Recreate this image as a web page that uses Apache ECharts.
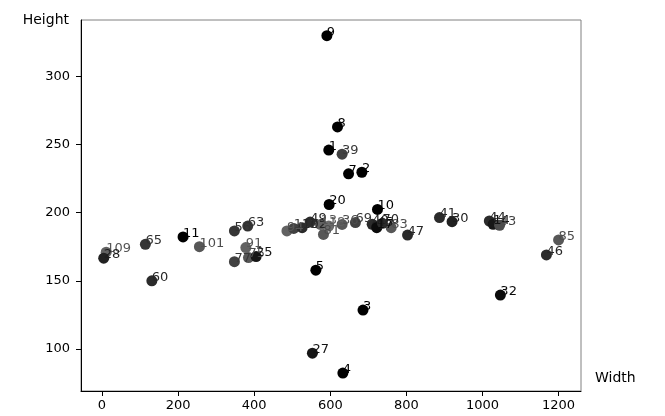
<!DOCTYPE html>
<html>
<head>
<meta charset="utf-8">
<script src="https://cdn.jsdelivr.net/npm/echarts@6/dist/echarts.min.js"></script>
<style>html,body{margin:0;padding:0;background:#fff}#c{width:665px;height:416px}</style>
</head>
<body>
<div id="c"></div>
<script>
// point identifiers (labels)
var ids = ['9','8','1','39','7','2','20','10','41','30','44','14','43','85','46','32','3','4','27','5',
  '47','83','69','40','45','17','70','109','28','65','60','11','101','56','63','91','77','75','25',
  '94','112','102','49','13','81','18','36'];
// Width values
var widths = [591,619,596,631,648,683,597,724,887,920,1018,1028,1045,1200,1168,1047,686,633,553,562,
  803,760,666,710,723,722,737,11,4.5,114,131,213,256,348,383,378,348,385,405,
  486,504,526,547,574,582,596,631];
// Height values
var heights = [330,263,246,243,228.5,229.7,206,202.4,196.4,193.4,193.9,191.5,190.7,180,169,139.5,128.5,82.2,96.8,157.8,
  183.6,189,192.7,191.5,190.2,189,192.2,171,166.6,176.8,150,182.2,175,186.6,190.2,174.4,164,167,167.8,
  186.6,188.4,189,193.1,191.4,184,190.2,191.4];
// grey tone of each point (0 = black)
var tones = [0,0,0,0.3,0,0,0,0,0.2,0.15,0.2,0.1,0.35,0.4,0.2,0.05,0,0,0.1,0,
  0.2,0.4,0.3,0.2,0.15,0.05,0.2,0.45,0.15,0.25,0.2,0,0.4,0.25,0.25,0.45,0.3,0.4,0.1,
  0.45,0.3,0.2,0.2,0.45,0.4,0.5,0.4];
var xTicks = [0,200,400,600,800,1000,1200];
var yTicks = [100,150,200,250,300];

function grey(t){var v=Math.round(t*255);return 'rgb('+v+','+v+','+v+')';}
var data = ids.map(function(id,i){
  return {name:id, value:[widths[i],heights[i]],
    itemStyle:{color:grey(tones[i]*0.85), opacity:1},
    label:{color:grey(tones[i]*0.75)}};
});
var FONT = 'DejaVu Sans';
var chart = echarts.init(document.getElementById('c'));
chart.setOption({
  animation:false,
  grid:{left:81, right:84, top:20, bottom:24, show:true, borderColor:'#808080', borderWidth:1},
  xAxis:{type:'value', min:-55.2, max:1258.9, name:'Width\n', nameLocation:'end', nameGap:14,
    nameTextStyle:{fontFamily:FONT, fontSize:14, color:'#000', lineHeight:25},
    axisLine:{onZero:false, lineStyle:{color:'#000', width:1}},
    axisTick:{show:true, length:5, lineStyle:{color:'#000'}, customValues:xTicks},
    axisLabel:{fontFamily:FONT, fontSize:13, color:'#000', margin:8, customValues:xTicks,
      formatter:function(v){return String(v);}},
    splitLine:{show:false}},
  yAxis:{type:'value', min:69.05, max:341.5, name:'Height', nameLocation:'end', nameGap:0,
    nameTextStyle:{fontFamily:FONT, fontSize:14, color:'#000', align:'right', verticalAlign:'middle', padding:[0,12,0,0]},
    axisLine:{show:true, onZero:false, lineStyle:{color:'#000', width:1}},
    axisTick:{show:true, length:5, lineStyle:{color:'#000'}, customValues:yTicks},
    axisLabel:{fontFamily:FONT, fontSize:13, color:'#000', margin:11, customValues:yTicks,
      formatter:function(v){return String(v);}},
    splitLine:{show:false}},
  series:[{type:'scatter', symbolSize:11, data:data,
    label:{show:true, formatter:'{b}', position:['50%','50%'], align:'left', verticalAlign:'bottom',
      offset:[0,3], fontFamily:FONT, fontSize:13}}]
});
</script>
</body>
</html>
